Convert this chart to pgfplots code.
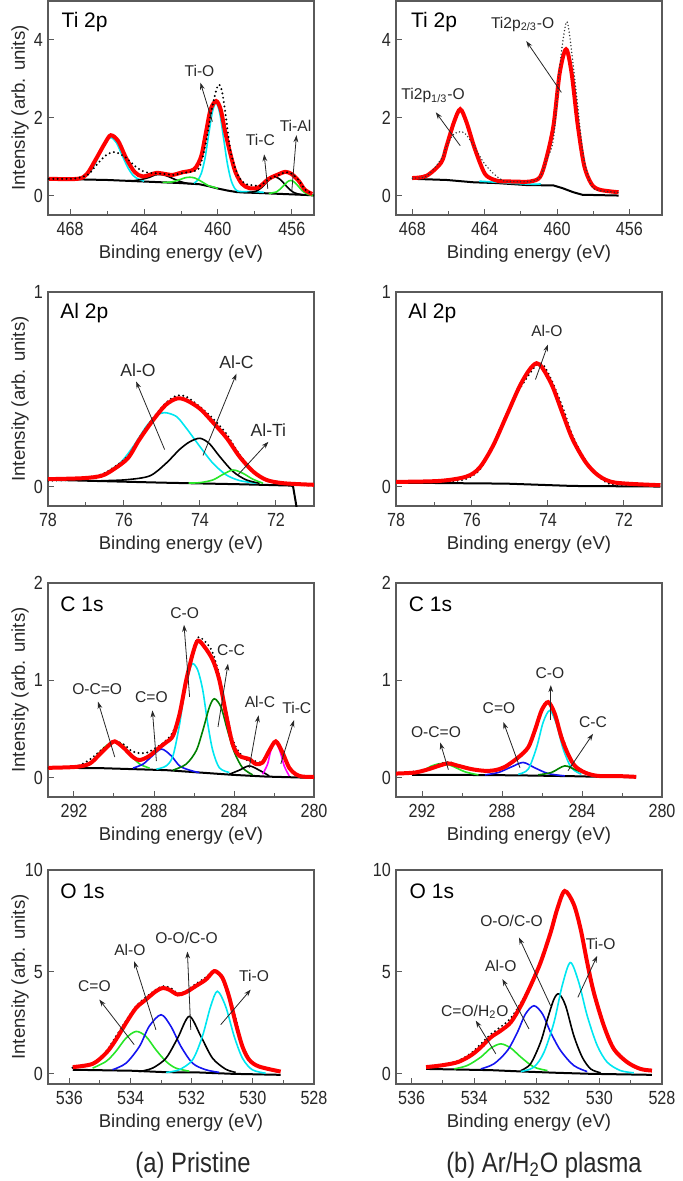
\documentclass[border=0pt]{standalone}
\usepackage{fontspec}
\setmainfont{Liberation Sans}
\newfontfamily\condfont[FakeStretch=0.85]{Liberation Sans}
\usepackage{pgfplots}
\pgfplotsset{compat=1.18}
\usetikzlibrary{arrows.meta}

\definecolor{cy}{RGB}{0,230,240}
\definecolor{gr}{RGB}{40,230,40}
\definecolor{dg}{RGB}{0,128,0}
\definecolor{bl}{RGB}{20,20,240}
\definecolor{mg}{RGB}{255,0,255}
\definecolor{txt}{RGB}{40,40,40}
\definecolor{frame}{RGB}{90,90,90}

\pgfplotsset{
  xps/.style={
    scale only axis, width=133pt, height=107pt, anchor=south west,
    x dir=reverse,
    axis line style={frame, line width=0.6pt},
    tick style={frame, line width=0.5pt},
    major tick length=3pt, minor tick length=2pt,
    tick align=inside, xtick pos=bottom, ytick pos=left,
    minor x tick num=1,
    /pgf/number format/assume math mode=true,
    ticklabel style={font=\condfont\fontsize{9.5}{10}\selectfont, text=txt},
    yticklabel style={xshift=1pt},
    xlabel={Binding energy (eV)},
    xlabel style={font=\fontsize{9.3}{10}\selectfont, text=txt,
      at={(axis description cs:0.5,0)}, anchor=center, yshift=-19.5pt},
    ylabel style={font=\fontsize{9.3}{10}\selectfont, text=txt,
      at={(axis description cs:0,0.5)}, anchor=center, yshift=14pt},
  },
  bgl/.style={black, line width=1pt},
  env/.style={red, line width=2pt, smooth},
  raw/.style={black, line width=1.1pt, line cap=round, dash pattern=on 0pt off 2.2pt, smooth},
  comp/.style={line width=0.8pt, smooth},
}
\tikzset{
  ann/.style={-{Stealth[length=3.5pt,width=2.4pt]}, line width=0.4pt, black!85},
  lab/.style={font=\fontsize{7.8}{9}\selectfont, text=txt},
  plab/.style={anchor=west, font=\fontsize{10.5}{12}\selectfont},
}

\begin{document}
\begin{tikzpicture}
\path[use as bounding box] (0,0) rectangle (341pt,-590.5pt);

% ---------- Ti 2p, pristine ----------
\begin{axis}[xps, at={(24pt,-107.5pt)}, xmin=454.8, xmax=469.2, ymin=-0.5, ymax=5,
  xtick={456,460,464,468}, ytick={0,2,4}, ylabel={Intensity (arb. units)}]
\addplot[bgl] coordinates {(469.2,0.43)(468,0.42)(467,0.41)(466,0.40)(465,0.38)(464,0.36)(463,0.34)(462,0.32)(461,0.29)(460.5,0.24)(460,0.18)(459.5,0.13)(459,0.09)(458.5,0.075)(458,0.07)(457,0.05)(456,0.03)(455,0.01)(454.8,0.0)};
\addplot[comp, cy] coordinates {(467.6,0.43)(467.3,0.47)(467.0,0.56)(466.7,0.77)(466.4,1.07)(466.1,1.37)(465.8,1.49)(465.5,1.36)(465.2,1.05)(464.9,0.74)(464.6,0.52)(464.3,0.42)(464.0,0.37)};
\addplot[comp, cy] coordinates {(461.3,0.32)(461.1,0.39)(460.9,0.57)(460.7,0.96)(460.5,1.57)(460.3,2.15)(460.1,2.39)(459.9,2.11)(459.7,1.49)(459.5,0.85)(459.3,0.41)(459.1,0.19)(458.9,0.11)(458.5,0.1)(458,0.1)(457.5,0.08)};
\addplot[comp, black] coordinates {(464.9,0.38)(464.6,0.38)(464.3,0.40)(464.0,0.43)(463.7,0.47)(463.4,0.53)(463.1,0.54)(462.8,0.51)(462.5,0.45)(462.2,0.39)(461.9,0.34)(461.6,0.31)(461.3,0.30)};
\addplot[comp, gr] coordinates {(463.0,0.34)(462.75,0.34)(462.5,0.35)(462.25,0.38)(462.0,0.42)(461.75,0.46)(461.5,0.47)(461.25,0.45)(461.0,0.39)(460.75,0.32)(460.5,0.25)(460.25,0.22)(460.0,0.18)};
\addplot[comp, black] coordinates {(458.4,0.08)(458.15,0.09)(457.9,0.12)(457.65,0.20)(457.4,0.32)(457.15,0.43)(456.9,0.48)(456.65,0.42)(456.4,0.30)(456.15,0.17)(455.9,0.08)(455.65,0.04)(455.4,0.02)};
\addplot[comp, gr] coordinates {(457.25,0.05)(457.05,0.07)(456.85,0.09)(456.65,0.16)(456.45,0.25)(456.25,0.35)(456.05,0.39)(455.85,0.34)(455.65,0.24)(455.45,0.13)(455.25,0.06)(455.05,0.02)(454.85,0.0)};
\addplot[env] coordinates {(469.15,0.43)(467.6,0.43)(467.1,0.55)(466.6,0.94)(466.1,1.36)(465.8,1.55)(465.4,1.4)(464.95,0.94)(464.5,0.6)(464.05,0.49)(463.35,0.58)(462.8,0.55)(462.45,0.53)(461.9,0.6)(461.45,0.64)(461.2,0.72)(460.9,1.02)(460.65,1.62)(460.4,2.21)(460.1,2.43)(459.85,2.21)(459.6,1.62)(459.3,1.02)(459.05,0.6)(458.7,0.3)(458.3,0.19)(457.8,0.21)(457.25,0.43)(456.7,0.55)(456.35,0.61)(456.0,0.55)(455.6,0.36)(455.3,0.15)(454.9,0.04)};
\addplot[raw] coordinates {(469.15,0.43)(468,0.43)(467.5,0.46)(467,0.55)(466.6,0.77)(466.1,1.02)(465.6,1.12)(465,0.98)(464.4,0.72)(463.9,0.6)(463.3,0.57)(462.8,0.55)(462.4,0.53)(461.9,0.58)(461.4,0.62)(461.0,0.72)(460.65,1.36)(460.3,2.3)(460.0,2.83)(459.8,2.72)(459.6,2.13)(459.3,1.1)(458.9,0.51)(458.5,0.3)(458.0,0.26)(457.7,0.25)(457.25,0.42)(456.7,0.53)(456.35,0.6)(456.0,0.56)(455.6,0.38)(455.3,0.16)(454.9,0.05)};
\node[plab] at (axis description cs:0.025,0.9) {Ti 2p};
\draw[ann] (axis cs:460.3,1.9) -- (axis cs:460.95,2.9);
\node[lab] at (axis cs:461.0,3.2) {Ti-O};
\draw[ann] (axis cs:457.3,0.17) -- (axis cs:457.5,1.06);
\node[lab] at (axis cs:457.7,1.42) {Ti-C};
\draw[ann] (axis cs:456.0,0.13) -- (axis cs:455.75,1.55);
\node[lab] at (axis cs:455.8,1.78) {Ti-Al};
\end{axis}

% ---------- Ti 2p, plasma ----------
\begin{axis}[xps, at={(198pt,-107.5pt)}, xmin=454.2, xmax=468.9, ymin=-0.5, ymax=5,
  xtick={456,460,464,468}, ytick={0,2,4}]
\addplot[bgl] coordinates {(468,0.43)(466.1,0.40)(464.6,0.34)(463.3,0.32)(461.7,0.27)(460.2,0.26)(459.7,0.19)(459.1,0.085)(458.6,0.02)(456.6,0.0)};
\addplot[comp, cy] coordinates {(464.3,0.37)(463.3,0.34)(462.3,0.31)(461.3,0.29)(460.9,0.3)};
\addplot[env] coordinates {(468,0.45)(467.2,0.51)(466.4,0.85)(466.1,1.28)(465.7,1.88)(465.35,2.22)(465.0,1.88)(464.6,1.28)(464.2,0.77)(463.9,0.51)(463.3,0.38)(462.4,0.36)(461.5,0.36)(460.95,0.47)(460.6,0.94)(460.2,1.79)(459.85,3.16)(459.5,3.76)(459.2,3.16)(458.85,1.79)(458.5,0.77)(458.1,0.30)(457.65,0.15)(456.6,0.085)};
\addplot[raw, black!80, line width=0.8pt, dash pattern=on 0pt off 1.7pt] coordinates {(468,0.45)(467.2,0.5)(466.4,0.94)(466.1,1.28)(465.7,1.58)(465.15,1.62)(464.6,1.28)(464.06,0.85)(463.5,0.56)(462.96,0.38)(462.4,0.36)(461.5,0.36)(460.95,0.47)(460.6,0.9)(460.2,1.45)(459.85,3.33)(459.5,4.44)(459.3,4.1)(458.9,2.48)(458.55,1.03)(458.1,0.26)(457.65,0.13)(456.6,0.08)};
\node[plab] at (axis description cs:0.03,0.9) {Ti 2p};
\draw[ann] (axis cs:459.76,2.65) -- (axis cs:461.7,3.97);
\node[lab] at (axis cs:461.9,4.4) {Ti2p\textsubscript{2/3}-O};
\draw[ann] (axis cs:465.35,1.28) -- (axis cs:466.7,2.14);
\node[lab] at (axis cs:466.85,2.56) {Ti2p\textsubscript{1/3}-O};
\end{axis}

% ---------- Al 2p, pristine ----------
\begin{axis}[xps, at={(24pt,-253pt)}, xmin=71, xmax=78, ymin=-0.1, ymax=1,
  xtick={72,74,76,78}, ytick={0,1}, ylabel={Intensity (arb. units)}]
\addplot[bgl] coordinates {(78,0.035)(75,0.02)(73,0.012)(71.6,0.005)(71.55,0.0)(71.42,-0.15)};
\addplot[comp, cy] coordinates {(76.64,0.05)(76.11,0.12)(75.76,0.205)(75.41,0.31)(75.15,0.364)(74.93,0.38)(74.62,0.36)(74.36,0.30)(74.0,0.205)(73.66,0.12)(73.31,0.06)(72.96,0.031)(72.52,0.017)};
\addplot[comp, black] coordinates {(76.6,0.03)(75.94,0.035)(75.32,0.055)(74.89,0.12)(74.54,0.19)(74.27,0.23)(74.0,0.248)(73.75,0.22)(73.48,0.154)(73.13,0.077)(72.78,0.034)(72.43,0.017)};
\addplot[comp, gr] coordinates {(74.3,0.018)(74.0,0.02)(73.66,0.034)(73.39,0.063)(73.13,0.085)(72.87,0.068)(72.61,0.038)(72.34,0.017)};
\addplot[raw, line width=1.1pt] coordinates {(78,0.03)(77.5,0.033)(77,0.045)(76.6,0.062)(76.3,0.095)(75.9,0.155)(75.6,0.25)(75.24,0.35)(74.9,0.43)(74.6,0.468)(74.36,0.462)(74.0,0.41)(73.66,0.35)(73.3,0.27)(72.96,0.165)(72.6,0.08)(72.25,0.035)(71.8,0.013)(71,0.005)};
\addplot[env] coordinates {(78,0.038)(77.08,0.043)(76.6,0.055)(76.3,0.085)(75.9,0.145)(75.6,0.24)(75.24,0.34)(74.9,0.42)(74.6,0.453)(74.36,0.444)(74.0,0.40)(73.66,0.33)(73.3,0.25)(72.96,0.154)(72.6,0.077)(72.25,0.034)(71.8,0.017)(71,0.009)};
\node[plab] at (axis description cs:0.02,0.9) {Al 2p};
\draw[ann] (axis cs:74.93,0.19) -- (axis cs:75.68,0.54);
\node[lab, font=\fontsize{8.8}{10}\selectfont] at (axis cs:75.63,0.6) {Al-O};
\draw[ann] (axis cs:73.92,0.16) -- (axis cs:73.04,0.58);
\node[lab, font=\fontsize{8.8}{10}\selectfont] at (axis cs:73.04,0.64) {Al-C};
\draw[ann] (axis cs:73.0,0.06) -- (axis cs:72.2,0.23);
\node[lab, font=\fontsize{8.8}{10}\selectfont] at (axis cs:72.2,0.29) {Al-Ti};
\end{axis}

% ---------- Al 2p, plasma ----------
\begin{axis}[xps, at={(198pt,-253pt)}, xmin=71, xmax=78, ymin=-0.1, ymax=1,
  xtick={72,74,76,78}, ytick={0,1}]
\addplot[bgl] coordinates {(78,0.02)(75.1,0.015)(73.35,0.003)(71.04,0.0)};
\addplot[raw, line width=1.1pt] coordinates {(78,0.022)(77.2,0.025)(76.5,0.028)(76.15,0.04)(75.8,0.085)(75.45,0.21)(75.1,0.37)(74.75,0.5)(74.5,0.575)(74.3,0.625)(74.12,0.625)(73.88,0.535)(73.6,0.40)(73.35,0.26)(73.0,0.13)(72.66,0.05)(72.4,0.015)(72.2,0.008)(71.04,0.006)};
\addplot[env] coordinates {(78,0.024)(76.85,0.029)(76.15,0.051)(75.8,0.097)(75.45,0.208)(75.1,0.36)(74.75,0.514)(74.49,0.60)(74.3,0.634)(74.14,0.608)(73.88,0.514)(73.62,0.378)(73.35,0.242)(73.0,0.123)(72.66,0.055)(72.22,0.02)(71.04,0.007)};
\node[plab] at (axis description cs:0.02,0.9) {Al 2p};
\draw[ann] (axis cs:74.33,0.55) -- (axis cs:74.0,0.73);
\node[lab] at (axis cs:74.03,0.8) {Al-O};
\end{axis}

% ---------- C 1s, pristine ----------
\begin{axis}[xps, at={(24pt,-398.5pt)}, xmin=280, xmax=293.3, ymin=-0.2, ymax=2,
  xtick={280,284,288,292}, ytick={0,1,2}, ylabel={Intensity (arb. units)}]
\addplot[bgl] coordinates {(293.28,0.10)(290.71,0.097)(287.39,0.076)(285.73,0.052)(284.07,0.028)(282.4,0.01)(280.6,0.0)(280,0.0)};
\addplot[comp, gr] coordinates {(291.87,0.103)(291.2,0.155)(290.71,0.26)(290.37,0.33)(289.96,0.372)(289.54,0.33)(289.13,0.224)(288.71,0.138)(288.22,0.097)};
\addplot[comp, bl] coordinates {(289.05,0.097)(288.55,0.138)(288.13,0.214)(287.63,0.293)(287.14,0.224)(286.72,0.12)(286.22,0.076)(285.73,0.05)};
\addplot[comp, cy] coordinates {(287.88,0.086)(287.39,0.12)(287.05,0.224)(286.72,0.55)(286.47,0.897)(286.22,1.103)(286.06,1.172)(285.81,1.103)(285.56,0.897)(285.31,0.55)(285.06,0.276)(284.73,0.10)(284.23,0.052)};
\addplot[comp, dg] coordinates {(287.05,0.076)(286.39,0.138)(285.89,0.276)(285.56,0.483)(285.23,0.724)(284.98,0.81)(284.65,0.724)(284.32,0.483)(283.98,0.259)(283.57,0.10)(283.07,0.028)};
\addplot[comp, black] coordinates {(284.23,0.034)(283.73,0.076)(283.24,0.12)(282.74,0.076)(282.24,0.017)};
\addplot[comp, mg] coordinates {(282.57,0.034)(282.32,0.138)(282.16,0.276)(281.94,0.362)(281.71,0.276)(281.49,0.12)(281.24,0.017)};
\addplot[raw, line width=1.1pt] coordinates {(293.28,0.10)(292,0.11)(291.4,0.16)(291.0,0.22)(290.6,0.29)(290.2,0.35)(289.9,0.37)(289.5,0.34)(289.1,0.27)(288.7,0.25)(288.3,0.26)(287.8,0.32)(287.4,0.38)(287.05,0.47)(286.72,0.66)(286.39,1.0)(286.06,1.3)(285.8,1.44)(285.5,1.41)(285.1,1.3)(284.75,1.06)(284.4,0.69)(284.07,0.39)(283.7,0.25)(283.3,0.17)(283.0,0.17)(282.6,0.16)(282.24,0.29)(281.9,0.36)(281.6,0.25)(281.24,0.1)(280.9,0.03)(280.3,0.01)};
\addplot[env] coordinates {(293.28,0.10)(291.87,0.11)(291.2,0.145)(290.71,0.24)(290.21,0.34)(289.96,0.372)(289.54,0.31)(289.05,0.21)(288.71,0.18)(288.22,0.224)(287.72,0.31)(287.39,0.362)(287.05,0.43)(286.72,0.655)(286.39,1.0)(286.06,1.276)(285.81,1.407)(285.48,1.345)(285.06,1.207)(284.73,1.0)(284.4,0.655)(284.07,0.345)(283.73,0.224)(283.24,0.19)(282.9,0.138)(282.57,0.155)(282.24,0.276)(281.91,0.372)(281.58,0.26)(281.24,0.10)(280.91,0.034)(280.58,0.01)(280.0,0.007)};
\node[plab] at (axis description cs:0.02,0.9) {C 1s};
\draw[ann] (axis cs:289.96,0.21) -- (axis cs:290.8,0.78);
\node[lab] at (axis cs:290.84,0.91) {O-C=O};
\draw[ann] (axis cs:287.88,0.17) -- (axis cs:288.08,0.69);
\node[lab] at (axis cs:288.13,0.83) {C=O};
\draw[ann] (axis cs:286.22,0.83) -- (axis cs:286.5,1.57);
\node[lab] at (axis cs:286.47,1.69) {C-O};
\draw[ann] (axis cs:284.8,0.52) -- (axis cs:284.3,1.17);
\node[lab] at (axis cs:284.15,1.31) {C-C};
\draw[ann] (axis cs:283.24,0.10) -- (axis cs:282.77,0.64);
\node[lab] at (axis cs:282.7,0.78) {Al-C};
\draw[ann] (axis cs:281.66,0.14) -- (axis cs:281.0,0.59);
\node[lab] at (axis cs:280.86,0.72) {Ti-C};
\end{axis}

% ---------- C 1s, plasma ----------
\begin{axis}[xps, at={(198pt,-398.5pt)}, xmin=280, xmax=293.3, ymin=-0.2, ymax=2,
  xtick={280,284,288,292}, ytick={0,1,2}]
\addplot[bgl] coordinates {(292.5,0.028)(289,0.026)(287,0.022)(284.5,0.014)(283.0,0.007)(281.3,0.005)};
\addplot[comp, gr] coordinates {(292.83,0.034)(292.0,0.069)(291.51,0.12)(291.01,0.145)(290.51,0.12)(289.85,0.059)(289.18,0.028)};
\addplot[comp, bl] coordinates {(288.85,0.028)(288.18,0.052)(287.52,0.11)(286.94,0.155)(286.36,0.10)(285.69,0.041)(284.86,0.017)};
\addplot[comp, cy] coordinates {(287.19,0.034)(286.69,0.086)(286.27,0.31)(285.94,0.569)(285.61,0.69)(285.28,0.552)(284.94,0.293)(284.53,0.10)(284.03,0.034)};
\addplot[comp, dg] coordinates {(286.19,0.028)(285.53,0.052)(284.86,0.12)(284.28,0.076)(283.53,0.021)};
\addplot[raw, line width=1.1pt] coordinates {(293.3,0.04)(292.3,0.065)(291.6,0.10)(291.1,0.14)(290.7,0.16)(290.2,0.13)(289.5,0.09)(288.9,0.07)(288.3,0.08)(287.8,0.12)(287.2,0.19)(286.7,0.3)(286.36,0.46)(286.0,0.68)(285.7,0.78)(285.4,0.68)(285.0,0.43)(284.7,0.25)(284.3,0.12)(283.9,0.06)(283.2,0.02)(282,0.015)(281.3,0.008)};
\addplot[env] coordinates {(293.3,0.041)(292.34,0.052)(291.67,0.086)(291.17,0.12)(290.68,0.145)(290.18,0.12)(289.51,0.086)(288.85,0.069)(288.35,0.076)(287.85,0.11)(287.19,0.207)(286.69,0.31)(286.36,0.483)(286.02,0.69)(285.69,0.776)(285.36,0.655)(285.03,0.414)(284.7,0.241)(284.36,0.12)(283.86,0.052)(283.2,0.017)(282.04,0.014)(281.29,0.007)};
\node[plab] at (axis description cs:0.022,0.9) {C 1s};
\draw[ann] (axis cs:290.68,0.08) -- (axis cs:291.09,0.36);
\node[lab] at (axis cs:291.3,0.47) {O-C=O};
\draw[ann] (axis cs:287.1,0.10) -- (axis cs:287.93,0.57);
\node[lab] at (axis cs:288.15,0.71) {C=O};
\draw[ann] (axis cs:285.56,0.59) -- (axis cs:285.56,0.95);
\node[lab] at (axis cs:285.6,1.07) {C-O};
\draw[ann] (axis cs:284.7,0.07) -- (axis cs:283.45,0.45);
\node[lab] at (axis cs:283.45,0.57) {C-C};
\end{axis}

% ---------- O 1s, pristine ----------
\begin{axis}[xps, at={(24pt,-542pt)}, xmin=528, xmax=536.7, ymin=-0.5, ymax=10,
  xtick={528,530,532,534,536}, ytick={0,5,10}, ylabel={Intensity (arb. units)}]
\addplot[bgl] coordinates {(535.89,0.2)(533.93,0.15)(532.84,0.08)(531.76,0.066)(530.67,0.0)(529.09,-0.05)};
\addplot[comp, gr] coordinates {(535.24,0.28)(534.8,0.61)(534.48,1.10)(534.15,1.75)(533.82,2.08)(533.5,1.84)(533.17,1.18)(532.84,0.61)(532.52,0.28)(532.08,0.13)};
\addplot[comp, bl] coordinates {(534.59,0.2)(534.15,0.52)(533.71,1.34)(533.39,2.33)(533.0,2.9)(532.68,2.33)(532.35,1.34)(531.97,0.52)(531.54,0.2)(531.1,0.07)};
\addplot[comp, black] coordinates {(533.71,0.11)(533.28,0.28)(532.84,0.77)(532.46,1.75)(532.08,2.82)(531.7,1.84)(531.32,0.77)(530.89,0.23)(530.56,0.07)};
\addplot[comp, cy] coordinates {(532.84,0.07)(532.41,0.2)(531.97,0.69)(531.65,1.84)(531.38,3.31)(531.16,4.05)(530.89,3.31)(530.61,1.84)(530.34,0.77)(530.02,0.2)(529.58,0.03)};
\addplot[raw, line width=1.1pt] coordinates {(535.9,0.3)(535.2,0.52)(534.8,1.1)(534.5,1.78)(534.15,2.6)(533.8,3.35)(533.5,3.75)(533.2,4.1)(532.95,4.3)(532.7,4.22)(532.45,3.95)(532.2,4.05)(531.9,4.38)(531.55,4.72)(531.3,5.05)(531.2,5.05)(531.0,4.78)(530.8,3.98)(530.55,2.65)(530.35,1.45)(530.1,0.72)(529.8,0.35)(529.1,0.1)};
\addplot[env] coordinates {(535.89,0.33)(535.24,0.49)(534.8,1.02)(534.48,1.67)(534.15,2.49)(533.82,3.23)(533.5,3.64)(533.17,4.05)(532.95,4.21)(532.74,4.13)(532.46,3.89)(532.19,4.0)(531.87,4.30)(531.54,4.62)(531.32,4.98)(531.21,5.03)(530.99,4.7)(530.78,3.8)(530.56,2.49)(530.34,1.34)(530.12,0.69)(529.8,0.36)(529.09,0.11)};
\node[plab] at (axis description cs:0.02,0.9) {O 1s};
\draw[ann] (axis cs:533.88,1.43) -- (axis cs:535.02,3.64);
\node[lab] at (axis cs:535.18,4.3) {C=O};
\draw[ann] (axis cs:533.17,2.16) -- (axis cs:533.88,5.52);
\node[lab] at (axis cs:534.02,6.1) {Al-O};
\draw[ann] (axis cs:532.03,2.16) -- (axis cs:532.14,6.0);
\node[lab] at (axis cs:532.17,6.67) {O-O/C-O};
\draw[ann] (axis cs:531.05,2.41) -- (axis cs:530.07,4.13);
\node[lab] at (axis cs:529.96,4.79) {Ti-O};
\end{axis}

% ---------- O 1s, plasma ----------
\begin{axis}[xps, at={(198pt,-542pt)}, xmin=528, xmax=536.5, ymin=-0.5, ymax=10,
  xtick={528,530,532,534,536}, ytick={0,5,10}]
\addplot[bgl] coordinates {(535.54,0.24)(533.47,0.18)(532.41,0.11)(531.35,0.05)(530.28,0.0)(528.32,-0.05)};
\addplot[comp, gr] coordinates {(534.64,0.24)(534.22,0.41)(533.79,0.82)(533.47,1.26)(533.15,1.47)(532.83,1.26)(532.51,0.82)(532.09,0.33)(531.66,0.16)};
\addplot[comp, bl] coordinates {(533.79,0.24)(533.37,0.49)(532.94,1.14)(532.62,2.04)(532.36,2.94)(532.09,3.34)(531.82,2.94)(531.56,2.04)(531.24,1.14)(530.82,0.41)(530.39,0.11)};
\addplot[comp, black] coordinates {(532.51,0.16)(532.2,0.49)(531.88,1.55)(531.66,2.69)(531.45,3.67)(531.29,3.92)(531.08,3.34)(530.82,1.88)(530.55,0.82)(530.28,0.24)(529.96,0.05)};
\addplot[comp, cy] coordinates {(532.51,0.11)(532.09,0.33)(531.77,1.06)(531.45,2.53)(531.19,4.32)(530.93,5.46)(530.66,4.49)(530.39,2.85)(530.07,1.39)(529.75,0.57)(529.33,0.16)(528.9,0.05)};
\addplot[raw, line width=1.1pt] coordinates {(535.5,0.3)(535.0,0.45)(534.5,0.65)(534.1,1.02)(533.8,1.45)(533.5,1.9)(533.2,2.25)(532.85,2.7)(532.5,3.5)(532.2,4.4)(531.9,5.5)(531.55,6.95)(531.35,8.05)(531.15,8.9)(531.0,8.85)(530.8,8.3)(530.6,7.05)(530.4,5.45)(530.2,4.0)(529.85,2.35)(529.55,1.2)(529.1,0.55)(528.7,0.22)(528.3,0.15)};
\addplot[env] coordinates {(535.54,0.33)(535.07,0.41)(534.53,0.57)(534.11,0.9)(533.79,1.3)(533.47,1.79)(533.15,2.12)(532.83,2.53)(532.51,3.34)(532.2,4.32)(531.88,5.46)(531.56,6.93)(531.35,8.07)(531.11,8.97)(530.82,8.32)(530.6,7.1)(530.39,5.46)(530.18,4.0)(529.86,2.37)(529.54,1.22)(529.11,0.57)(528.69,0.24)(528.32,0.16)};
\node[plab] at (axis description cs:0.025,0.9) {O 1s};
\draw[ann] (axis cs:533.31,0.98) -- (axis cs:533.95,2.61);
\node[lab] at (axis cs:533.98,3.02) {C=O/H\textsubscript{2}O};
\draw[ann] (axis cs:532.25,2.2) -- (axis cs:533.1,4.65);
\node[lab] at (axis cs:533.15,5.3) {Al-O};
\draw[ann] (axis cs:531.56,3.34) -- (axis cs:532.57,6.69);
\node[lab] at (axis cs:532.81,7.5) {O-O/C-O};
\draw[ann] (axis cs:530.69,3.75) -- (axis cs:530.07,5.79);
\node[lab] at (axis cs:529.96,6.36) {Ti-O};
\end{axis}

\node[font=\condfont\fontsize{14}{16}\selectfont, text=txt] at (96.5pt,-582.5pt) {(a) Pristine};
\node[font=\condfont\fontsize{14}{16}\selectfont, text=txt] at (272pt,-582.5pt) {(b) Ar/H\textsubscript{2}O plasma};
\end{tikzpicture}
\end{document}
